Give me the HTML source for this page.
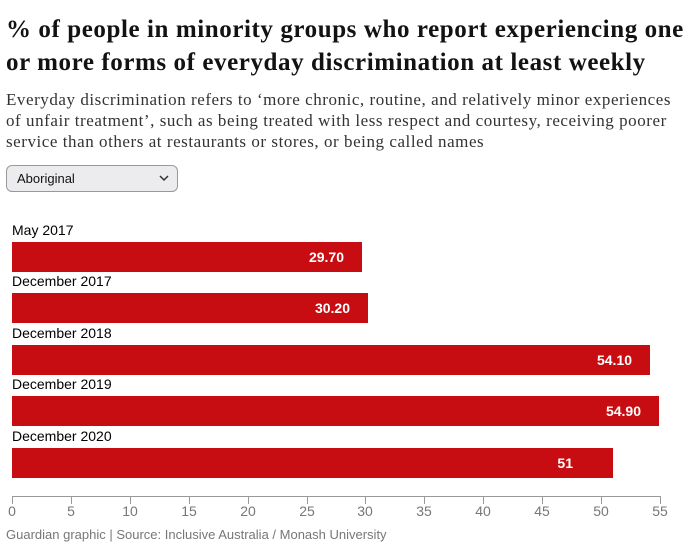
<!DOCTYPE html>
<html><head><meta charset="utf-8"><style>
body{margin:0;width:691px;height:558px;background:#fff;position:relative;overflow:hidden;font-family:"Liberation Sans",sans-serif;color:#121212}
.t{position:absolute;left:6px;top:13px;font-family:"Liberation Serif",serif;font-weight:bold;font-size:25px;line-height:33px;white-space:nowrap;letter-spacing:0.58px}
.s{position:absolute;left:6px;top:89px;font-family:"Liberation Serif",serif;font-size:17px;line-height:21px;white-space:nowrap;letter-spacing:0.55px;color:#333}
.dd{position:absolute;left:6px;top:165px;width:172px;height:27px;border:1px solid #999;border-radius:6px;background:#ececef;font-size:13px;line-height:26px;box-sizing:border-box;padding-left:10px}
.lab{position:absolute;left:12px;font-size:14px;color:#000}
.bar{position:absolute;left:12px;height:30px;background:#c70d12;color:#fff;font-weight:bold;font-size:14px;line-height:30px;text-align:right;box-sizing:border-box;padding-right:18px}
.tk{position:absolute;top:496px;width:1px;height:8px;background:#999}
.tl{position:absolute;top:503px;width:30px;margin-left:-15px;text-align:center;font-size:14px;color:#777}
.src{position:absolute;left:6px;top:527px;font-size:13px;color:#777}
</style></head><body>
<div class="t">% of people in minority groups who report experiencing one<br>or more forms of everyday discrimination at least weekly</div>
<div class="s">Everyday discrimination refers to ‘more chronic, routine, and relatively minor experiences<br>of unfair treatment’, such as being treated with less respect and courtesy, receiving poorer<br>service than others at restaurants or stores, or being called names</div>
<div class="dd">Aboriginal<svg style="position:absolute;right:8px;top:9px" width="10" height="7"><path d="M1 1 L5 5 L9 1" stroke="#333" stroke-width="1.5" fill="none"/></svg></div>
<div class="lab" style="top:222px">May 2017</div>
<div class="bar" style="top:242px;width:350px">29.70</div>
<div class="lab" style="top:273px">December 2017</div>
<div class="bar" style="top:293px;width:356px">30.20</div>
<div class="lab" style="top:325px">December 2018</div>
<div class="bar" style="top:345px;width:638px">54.10</div>
<div class="lab" style="top:376px">December 2019</div>
<div class="bar" style="top:396px;width:647px">54.90</div>
<div class="lab" style="top:428px">December 2020</div>
<div class="bar" style="top:448px;width:601px;padding-right:40px">51</div>
<div style="position:absolute;left:12px;top:496px;width:648px;height:1px;background:#999"></div>
<div class="tk" style="left:12px"></div><div class="tl" style="left:12px">0</div>
<div class="tk" style="left:71px"></div><div class="tl" style="left:71px">5</div>
<div class="tk" style="left:130px"></div><div class="tl" style="left:130px">10</div>
<div class="tk" style="left:189px"></div><div class="tl" style="left:189px">15</div>
<div class="tk" style="left:248px"></div><div class="tl" style="left:248px">20</div>
<div class="tk" style="left:307px"></div><div class="tl" style="left:307px">25</div>
<div class="tk" style="left:365px"></div><div class="tl" style="left:365px">30</div>
<div class="tk" style="left:424px"></div><div class="tl" style="left:424px">35</div>
<div class="tk" style="left:483px"></div><div class="tl" style="left:483px">40</div>
<div class="tk" style="left:542px"></div><div class="tl" style="left:542px">45</div>
<div class="tk" style="left:601px"></div><div class="tl" style="left:601px">50</div>
<div class="tk" style="left:660px"></div><div class="tl" style="left:660px">55</div>
<div class="src">Guardian graphic | Source: Inclusive Australia / Monash University</div>
</body></html>
